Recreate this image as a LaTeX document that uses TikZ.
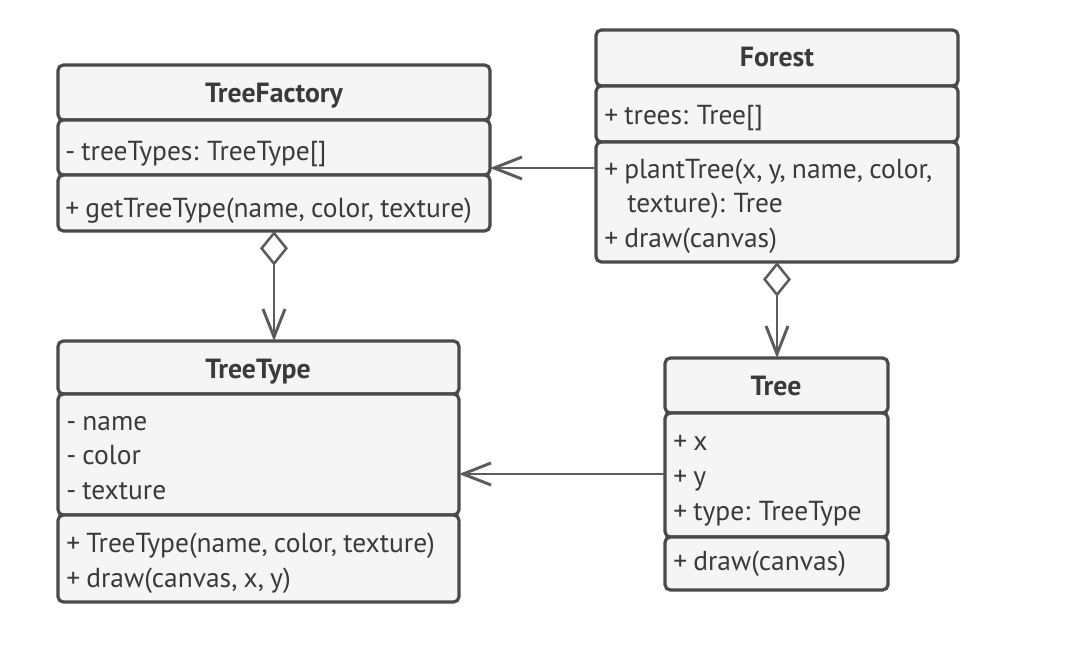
\documentclass[tikz,border=0pt]{standalone}
\usepackage{fontspec}
\setmainfont[WordSpace=0.85]{PT Sans}
\usetikzlibrary{arrows.meta}
\definecolor{umlborder}{HTML}{4A4A4A}
\definecolor{umlfill}{HTML}{F5F5F5}
\definecolor{umltext}{HTML}{3A3A3A}
\definecolor{umlline}{HTML}{5C5C5C}
\begin{document}
\begin{tikzpicture}[x=0.75pt,y=-0.75pt,
  comp/.style={draw=umlborder, fill=umlfill, line width=2.4pt, rounded corners=4pt,
    inner sep=0pt, outer sep=0pt, anchor=north west},
  size/.style 2 args={minimum width=#1*0.75pt, minimum height=#2*0.75pt},
  member/.style={anchor=base west, inner sep=0pt, text=umltext,
    font=\fontsize{20.6}{25.9}\selectfont},
  title/.style={anchor=base, inner sep=0pt, text=umltext,
    font=\bfseries\fontsize{20.8}{25.9}\selectfont},
  link/.style={draw=umlline, line width=2.2pt},
  navi/.style={-{Straight Barb[length=21pt, width=16.5pt]}},
  aggr/.style={{Diamond[length=26pt, width=21pt, fill=white, line width=1.9pt]}-{Straight Barb[length=21pt, width=16.5pt]}}
]
\useasboundingbox (0,0) rectangle (1077,667);

% TreeFactory
\node[comp, size={432}{55}] (tfT) at (58,65) {};
\node[comp, size={432}{55}] (tfA) at (58,120) {};
\node[comp, size={432}{56}] (tfO) at (58,175) {};
\node[title] (tfName) at (274,103) {TreeFactory};
\node[member] (tfA1) at (65,160) {- treeTypes: TreeType[]};
\node[member] (tfO1) at (65,217) {+ getTreeType(name, color, texture)};

% Forest
\node[comp, size={362}{56}] (foT) at (596,30) {};
\node[comp, size={362}{56}] (foA) at (596,86) {};
\node[comp, size={362}{120}] (foO) at (596,142) {};
\node[title] (foName) at (777,67) {Forest};
\node[member] (foA1) at (604,124) {+ trees: Tree[]};
\node[member] (foO1) at (604,178) {+ plantTree(x, y, name, color,};
\node[member] (foO2) at (627,212) {texture): Tree};
\node[member] (foO3) at (604,247) {+ draw(canvas)};

% TreeType
\node[comp, size={401}{53}] (ttT) at (58,341) {};
\node[comp, size={401}{121}] (ttA) at (58,394) {};
\node[comp, size={401}{87}] (ttO) at (58,515) {};
\node[title] (ttName) at (258,378) {TreeType};
\node[member] (ttA1) at (66,430) {- name};
\node[member] (ttA2) at (66,464) {- color};
\node[member] (ttA3) at (66,499) {- texture};
\node[member] (ttO1) at (66,552) {+ TreeType(name, color, texture)};
\node[member] (ttO2) at (66,587) {+ draw(canvas, x, y)};

% Tree
\node[comp, size={223}{55}] (trT) at (665,358) {};
\node[comp, size={223}{124}] (trA) at (665,413) {};
\node[comp, size={223}{53}] (trO) at (665,537) {};
\node[title] (trName) at (776,395) {Tree};
\node[member] (trA1) at (673,450) {+ x};
\node[member] (trA2) at (673,485) {+ y};
\node[member] (trA3) at (673,520) {+ type: TreeType};
\node[member] (trO1) at (673,570) {+ draw(canvas)};

% connector heights
\coordinate (rowF) at (0,168);
\coordinate (rowT) at (0,474);

% relations
\draw[link, navi] (foO.west |- rowF) -- (tfA.east |- rowF);
\draw[link, navi] (trA.west |- rowT) -- (ttA.east |- rowT);
\draw[link, aggr] (tfO.south) -- (tfO.south |- ttT.north);
\draw[link, aggr] (foO.south) -- (foO.south |- trT.north);
\end{tikzpicture}
\end{document}
